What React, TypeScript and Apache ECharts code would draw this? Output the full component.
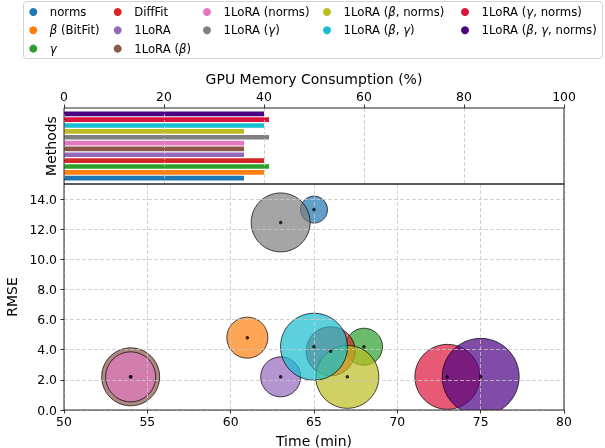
import React, { useEffect, useRef } from 'react';
import * as echarts from 'echarts';

const methods = [
  'norms', 'β (BitFit)', 'γ', 'DiffFit', '1LoRA', '1LoRA (β)', '1LoRA (norms)',
  '1LoRA (γ)', '1LoRA (β, norms)', '1LoRA (β, γ)', '1LoRA (γ, norms)', '1LoRA (β, γ, norms)',
];
const colors = [
  '#1f77b4', '#ff7f0e', '#2ca02c', '#d62728', '#9467bd', '#8c564b', '#e377c2',
  '#7f7f7f', '#bcbd22', '#17becf', '#DC143C', '#4B0082',
];
const timeMin = [65, 61, 68, 66, 63, 54, 54, 63, 67, 65, 73, 75];
const rmse = [13.3, 4.8, 4.2, 3.9, 2.2, 2.2, 2.2, 12.45, 2.2, 4.2, 2.2, 2.2];
const memoryPct = [36, 40, 41, 40, 36, 36, 36, 41, 36, 40, 41, 40];
const bubbleDiameter = [28, 42, 38, 50, 41, 59, 51, 60, 64, 68, 66, 78];
const rmseTicks = [0, 2, 4, 6, 8, 10, 12, 14];

const legendColumns = [[0, 1, 2], [3, 4, 5], [6, 7], [8, 9], [10, 11]];
const legendLefts = [29.3, 113.7, 203, 323, 461];

const FONT = 'DejaVu Sans';

export default function App() {
  const ref = useRef<HTMLDivElement>(null);
  useEffect(() => {
    if (!ref.current) return;
    const chart = echarts.init(ref.current, undefined, { renderer: 'svg' });
    const gridLine = { show: true, lineStyle: { color: '#c8c8c8', width: 0.8, type: [4, 2] } };
    const tick = { show: true, length: 3.5, lineStyle: { color: '#000', width: 0.8 } };
    const label = { color: '#000', fontSize: 12.4, fontFamily: FONT };
    const nameStyle = { color: '#000', fontSize: 14, fontFamily: FONT };
    const noLine = { show: false, onZero: false };

    const bubbleSeries = methods.map((m, i) => ({
      type: 'custom',
      name: m,
      xAxisIndex: 1,
      yAxisIndex: 1,
      clip: true,
      itemStyle: { color: colors[i] },
      data: [[timeMin[i], rmse[i], bubbleDiameter[i]]],
      renderItem: (params: any, api: any) => {
        const c = api.coord([api.value(0), api.value(1)]);
        const r = api.value(2) / 2 - 0.5;
        return {
          type: 'circle',
          shape: { cx: c[0], cy: c[1], r },
          style: { fill: colors[i], stroke: '#000', lineWidth: 1, opacity: 0.7 },
        };
      },
    }));

    chart.setOption({
      animation: false,
      textStyle: { fontFamily: FONT },
      graphic: [
        {
          type: 'rect',
          z: 0,
          shape: { x: 23.5, y: 1.5, width: 579, height: 57, r: 3 },
          style: { fill: '#fff', stroke: '#d3d3d3', lineWidth: 1 },
        },
      ],
      legend: legendColumns.map((col, k) => ({
        orient: 'vertical',
        left: legendLefts[k],
        top: 5,
        padding: 0,
        itemGap: 4.3,
        itemWidth: 8,
        itemHeight: 8,
        icon: 'circle',
        selectedMode: false,
        data: col.map((i) => methods[i]),
        itemStyle: { borderWidth: 0, opacity: 1 },
        formatter: (name: string) => name.replace(/([βγ])/g, '{i|$1}'),
        textStyle: {
          fontSize: 11.7,
          color: '#000',
          fontFamily: FONT,
          lineHeight: 14,
          padding: [0, 0, 0, 7.5],
          rich: {
            i: { fontStyle: 'italic', fontSize: 11.7, lineHeight: 14, fontFamily: FONT, color: '#000' },
          },
        },
      })),
      grid: [
        { left: 64, top: 108, width: 500, height: 76, show: true, borderColor: '#262626', borderWidth: 1, z: 6, outerBoundsMode: 'none', containLabel: false },
        { left: 64, top: 184, width: 500, height: 226, show: true, borderColor: '#262626', borderWidth: 1, z: 6, outerBoundsMode: 'none', containLabel: false },
      ],
      xAxis: [
        {
          gridIndex: 0,
          type: 'value',
          position: 'top',
          min: 0,
          max: 100,
          interval: 20,
          z: 3,
          axisLine: noLine,
          axisTick: tick,
          axisLabel: { ...label, margin: 6 },
          splitLine: gridLine,
          name: 'GPU Memory Consumption (%)',
          nameLocation: 'middle',
          nameGap: 22,
          nameTextStyle: nameStyle,
        },
        {
          gridIndex: 1,
          type: 'value',
          position: 'bottom',
          min: 50,
          max: 80,
          interval: 5,
          z: 3,
          axisLine: noLine,
          axisTick: tick,
          axisLabel: { ...label, margin: 5.5 },
          splitLine: gridLine,
          name: 'Time (min)',
          nameLocation: 'middle',
          nameGap: 23.5,
          nameTextStyle: nameStyle,
        },
      ],
      yAxis: [
        {
          gridIndex: 0,
          type: 'value',
          position: 'left',
          min: -0.99,
          max: 11.99,
          axisLine: noLine,
          axisTick: { show: false },
          axisLabel: { show: false },
          splitLine: { show: false },
          name: 'Methods',
          nameLocation: 'middle',
          nameGap: 6,
          nameRotate: 90,
          nameTextStyle: nameStyle,
        },
        {
          gridIndex: 1,
          type: 'value',
          position: 'left',
          min: 0,
          max: 15,
          interval: 2,
          z: 3,
          axisLine: noLine,
          axisTick: { ...tick, customValues: rmseTicks },
          axisLabel: {
            ...label,
            margin: 7,
            customValues: rmseTicks,
            formatter: (v: number) => v.toFixed(1),
          },
          splitLine: gridLine,
          name: 'RMSE',
          nameLocation: 'middle',
          nameGap: 36,
          nameRotate: 90,
          nameTextStyle: nameStyle,
        },
      ],
      series: [
        {
          type: 'custom',
          name: 'memory',
          xAxisIndex: 0,
          yAxisIndex: 0,
          data: memoryPct.map((v, i) => [v, i]),
          renderItem: (params: any, api: any) => {
            const idx = api.value(1);
            const start = api.coord([0, idx]);
            const end = api.coord([api.value(0), idx]);
            const h = api.size([0, 0.8])[1];
            return {
              type: 'rect',
              shape: { x: start[0], y: start[1] - h / 2, width: end[0] - start[0], height: h },
              style: { fill: colors[params.dataIndex] },
            };
          },
        },
        ...bubbleSeries,
        {
          type: 'scatter',
          name: 'centers',
          xAxisIndex: 1,
          yAxisIndex: 1,
          z: 5,
          silent: true,
          symbol: 'circle',
          symbolSize: 3.5,
          itemStyle: { color: '#000' },
          data: timeMin.map((t, i) => [t, rmse[i]]),
        },
      ],
    });
    return () => chart.dispose();
  }, []);
  return <div ref={ref} style={{ position: 'fixed', left: 0, top: 0, width: 605, height: 448 }} />;
}
